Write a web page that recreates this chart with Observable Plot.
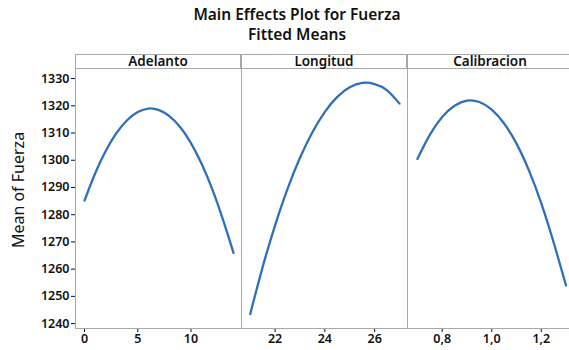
<!DOCTYPE html>
<html>
<head>
<meta charset="utf-8">
<script src="https://cdn.jsdelivr.net/npm/d3@7"></script>
<script src="https://cdn.jsdelivr.net/npm/@observablehq/plot@0.6"></script>
<style>
  html, body { margin: 0; padding: 0; background: #fff; }
  #wrap { position: relative; width: 569px; height: 350px; overflow: hidden; font-family: "Noto Sans", "Open Sans", sans-serif; color: #111; }
  .title { position: absolute; left: 0; width: 594px; text-align: center; font-size: 15.5px; font-weight: 600; line-height: 19px; }
  .strip { position: absolute; top: 54px; height: 13px; border: 1px solid #a8a8a8; box-sizing: content-box; text-align: center; font-size: 13.5px; font-weight: 600; line-height: 13px; }
  .ylab { position: absolute; left: 18px; top: 190px; transform: translate(-50%, -50%) rotate(-90deg); font-size: 16px; white-space: nowrap; }
  .pl { position: absolute; top: 54px; }
</style>
</head>
<body>
<div id="wrap">
  <div class="title" style="top:5px">Main Effects Plot for Fuerza</div>
  <div class="title" style="top:25px">Fitted Means</div>
  <div class="ylab">Mean of Fuerza</div>
</div>
<script>
// Panel names
const panels = ["Adelanto", "Longitud", "Calibracion"];

// Adelanto fitted means
const adelantoX = [0, 1, 2, 3, 4, 5, 6, 7, 8, 9, 10, 11, 12, 13, 14];
const adelantoY = [1285.2, 1295.2, 1303.5, 1310.0, 1314.7, 1317.7, 1319.0, 1318.4, 1316.1, 1312.1, 1306.3, 1298.7, 1289.4, 1278.3, 1266.0];

// Longitud fitted means
const longitudX = [21, 21.5, 22, 22.5, 23, 23.5, 24, 24.5, 25, 25.5, 26, 26.5, 27];
const longitudY = [1243.5, 1260.8, 1276.1, 1289.5, 1300.9, 1310.3, 1317.8, 1323.3, 1326.8, 1328.4, 1328.0, 1325.7, 1320.8];

// Calibracion fitted means
const calibX = [0.70, 0.75, 0.80, 0.85, 0.90, 0.95, 1.00, 1.05, 1.10, 1.15, 1.20, 1.25, 1.30];
const calibY = [1300.5, 1309.3, 1315.9, 1320.0, 1321.9, 1321.4, 1318.6, 1313.5, 1306.1, 1296.3, 1284.2, 1269.8, 1254.0];

// Tick labels
const yTicks = [1240, 1250, 1260, 1270, 1280, 1290, 1300, 1310, 1320, 1330];
const adelantoTicks = [0, 5, 10];
const longitudTicks = [22, 24, 26];
const calibTicks = [0.8, 1.0, 1.2];

const wrap = document.getElementById("wrap");
const lineColor = "#2f70b7";
const frameColor = "#a8a8a8";
const yDomain = [1238.2, 1333.7];
const H = 296, MT = 14, MB = 22;

function panel(cfg) {
  const data = cfg.xs.map((x, i) => ({x, y: cfg.ys[i]}));
  const p = Plot.plot({
    width: cfg.width,
    height: H,
    marginLeft: cfg.marginLeft,
    marginRight: 0,
    marginTop: MT,
    marginBottom: MB,
    style: {fontFamily: "'Noto Sans', 'Open Sans', sans-serif", fontSize: "12.5px", fontWeight: 600, color: "#111", background: "transparent"},
    x: {domain: cfg.xDomain, ticks: cfg.xTicks, tickFormat: cfg.fmt, label: null, tickSize: 4, tickPadding: 2},
    y: {domain: yDomain, ticks: yTicks, tickFormat: d => String(d), label: null, tickSize: 4, tickPadding: 2, axis: cfg.yAxis ? "left" : null},
    marks: [
      Plot.frame({stroke: frameColor, strokeWidth: 1}),
      Plot.line(data, {x: "x", y: "y", stroke: lineColor, strokeWidth: 2.3, curve: "natural"})
    ]
  });
  p.classList.add("pl");
  p.style.left = cfg.left + "px";
  p.style.overflow = "visible";
  wrap.appendChild(p);
  const s = document.createElement("div");
  s.className = "strip";
  s.style.left = (cfg.left + cfg.marginLeft) + "px";
  s.style.width = (cfg.width - cfg.marginLeft - 2) + "px";
  s.textContent = cfg.name;
  wrap.appendChild(s);
}

panel({name: panels[0], left: 0, width: 241, marginLeft: 75, xDomain: [-0.85, 14.75], xTicks: adelantoTicks, fmt: d => String(d), xs: adelantoX, ys: adelantoY, yAxis: true});
panel({name: panels[1], left: 241, width: 166, marginLeft: 0, xDomain: [20.65, 27.32], xTicks: longitudTicks, fmt: d => String(d), xs: longitudX, ys: longitudY, yAxis: false});
panel({name: panels[2], left: 407, width: 166, marginLeft: 0, xDomain: [0.66, 1.33], xTicks: calibTicks, fmt: d => d.toFixed(1).replace(".", ","), xs: calibX, ys: calibY, yAxis: false});
</script>
</body>
</html>
